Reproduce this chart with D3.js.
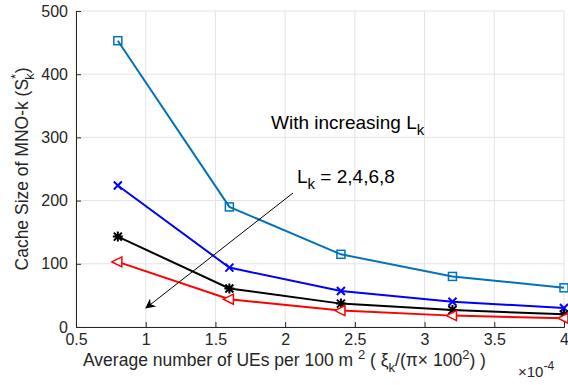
<!DOCTYPE html>
<html>
<head>
<meta charset="utf-8">
<script src="https://cdn.jsdelivr.net/npm/d3@7"></script>
<style>
  body { margin: 0; background: #fff; }
  text { font-family: "Liberation Sans", Arial, sans-serif; }
</style>
</head>
<body>
<div id="chart"></div>
<script>
var width = 568,
    height = 385;

// density of UEs (x 10^-4)
var density = [0.8, 1.6, 2.4, 3.2, 4.0];
var cacheL2 = [453, 190, 115, 80, 62];
var cacheL4 = [224, 94, 57, 40, 30];
var cacheL6 = [143, 61, 37, 27, 20];
var cacheL8 = [103, 44, 26, 18, 14];
var xTicks = [0.5, 1, 1.5, 2, 2.5, 3, 3.5, 4];
var yTicks = [0, 100, 200, 300, 400, 500];

var series = [
  { values: cacheL2, color: "#0072BD", marker: "square" },
  { values: cacheL4, color: "#0000FF", marker: "cross" },
  { values: cacheL6, color: "#000000", marker: "star" },
  { values: cacheL8, color: "#FF0000", marker: "triangle" }
];

var margin = { top: 11, right: 4, bottom: 58, left: 76 };

var x = d3.scaleLinear().domain([0.5, 4]).range([margin.left, width - margin.right]);
var y = d3.scaleLinear().domain([0, 500]).range([height - margin.bottom, margin.top]);

var svg = d3.select("#chart").append("svg")
    .attr("width", width)
    .attr("height", height);

// grid
var grid = svg.append("g");
grid.selectAll("line.gx")
    .data(xTicks)
    .enter().append("line")
    .attr("x1", function (d) { return x(d); })
    .attr("x2", function (d) { return x(d); })
    .attr("y1", y(0)).attr("y2", y(500))
    .attr("stroke", "#e3e3e3").attr("stroke-width", 1);
grid.selectAll("line.gy")
    .data(yTicks)
    .enter().append("line")
    .attr("y1", function (d) { return y(d); })
    .attr("y2", function (d) { return y(d); })
    .attr("x1", x(0.5)).attr("x2", x(4))
    .attr("stroke", "#e3e3e3").attr("stroke-width", 1);

// axes (ticks inward)
var xAxis = svg.append("g")
    .attr("transform", "translate(0," + y(0) + ")")
    .call(d3.axisBottom(x).tickValues(xTicks).tickSize(-5).tickPadding(7)
      .tickFormat(function (d) { return d3.format("")(d); }));
var yAxis = svg.append("g")
    .attr("transform", "translate(" + x(0.5) + ",0)")
    .call(d3.axisLeft(y).tickValues(yTicks).tickSize(-5).tickPadding(8));

[xAxis, yAxis].forEach(function (a) {
  a.select(".domain").attr("stroke", "#262626");
  a.selectAll(".tick line").attr("stroke", "#262626");
  a.selectAll("text").attr("fill", "#262626").style("font-size", "16px")
    .style("font-family", "'Liberation Sans', Arial, sans-serif");
});

// lines
var line = d3.line()
    .x(function (d, i) { return x(density[i]); })
    .y(function (d) { return y(d); });

series.forEach(function (s) {
  svg.append("path")
      .datum(s.values)
      .attr("fill", "none")
      .attr("stroke", s.color)
      .attr("stroke-width", 2)
      .attr("d", line);

  var m = svg.append("g").selectAll("g")
      .data(s.values)
      .enter().append("g")
      .attr("transform", function (d, i) { return "translate(" + x(density[i]) + "," + y(d) + ")"; });

  if (s.marker === "square") {
    m.append("rect").attr("x", -4).attr("y", -4).attr("width", 8).attr("height", 8)
      .attr("fill", "none").attr("stroke", s.color).attr("stroke-width", 1.5);
  } else if (s.marker === "cross") {
    m.append("path").attr("d", "M-4,-4L4,4M-4,4L4,-4")
      .attr("stroke", s.color).attr("stroke-width", 2);
  } else if (s.marker === "star") {
    m.append("path").attr("d", "M-5,0L5,0M0,-5L0,5M-4,-4L4,4M-4,4L4,-4")
      .attr("stroke", s.color).attr("stroke-width", 2);
  } else {
    m.append("path").attr("d", "M-6,0L4,-5L4,5Z")
      .attr("fill", "#fff").attr("stroke", s.color).attr("stroke-width", 1.5);
  }
});

// annotations
var ann = svg.append("g").attr("fill", "#000").style("font-size", "19px");
var t1 = ann.append("text").attr("x", 271).attr("y", 129);
t1.append("tspan").text("With increasing L");
t1.append("tspan").attr("dy", 6).style("font-size", "15px").text("k");

var t2 = ann.append("text").attr("x", 297).attr("y", 183);
t2.append("tspan").text("L");
t2.append("tspan").attr("dy", 6).style("font-size", "15px").text("k");
t2.append("tspan").attr("dy", -6).text(" = 2,4,6,8");

svg.append("defs").append("marker")
    .attr("id", "arrow")
    .attr("viewBox", "0 0 10 10")
    .attr("refX", 9).attr("refY", 5)
    .attr("markerWidth", 10).attr("markerHeight", 10)
    .attr("markerUnits", "userSpaceOnUse")
    .attr("orient", "auto")
    .append("path")
    .attr("d", "M0,0L10,5L0,10L3,5Z")
    .attr("fill", "#000");

svg.append("line")
    .attr("x1", 293).attr("y1", 193)
    .attr("x2", 146).attr("y2", 308)
    .attr("stroke", "#000").attr("stroke-width", 1)
    .attr("marker-end", "url(#arrow)");

// axis labels
var xl = svg.append("text")
    .attr("x", 83).attr("y", 366)
    .attr("fill", "#262626")
    .style("font-size", "17.5px");
xl.append("tspan").text("Average number of UEs per 100 m ");
xl.append("tspan").attr("dy", -7).style("font-size", "13px").text("2");
xl.append("tspan").attr("dy", 7).text(" ( ξ");
xl.append("tspan").attr("dy", 6).style("font-size", "13px").text("k");
xl.append("tspan").attr("dy", -6).text("/(π× 100");
xl.append("tspan").attr("dy", -7).style("font-size", "13px").text("2");
xl.append("tspan").attr("dy", 7).text(") )");

var ex = svg.append("text")
    .attr("x", 518).attr("y", 377)
    .attr("fill", "#262626")
    .style("font-size", "15px");
ex.append("tspan").text("×10");
ex.append("tspan").attr("dy", -7).style("font-size", "12px").text("-4");

var yl = svg.append("text")
    .attr("transform", "translate(28," + ((y(0) + y(500)) / 2) + ") rotate(-90)")
    .attr("text-anchor", "middle")
    .attr("fill", "#262626")
    .style("font-size", "17.5px");
yl.append("tspan").text("Cache Size of MNO-k (S");
yl.append("tspan").attr("dy", -8).style("font-size", "13px").text("*");
yl.append("tspan").attr("dx", -6).attr("dy", 14).style("font-size", "13px").text("k");
yl.append("tspan").attr("dy", -6).text(")");
</script>
</body>
</html>
